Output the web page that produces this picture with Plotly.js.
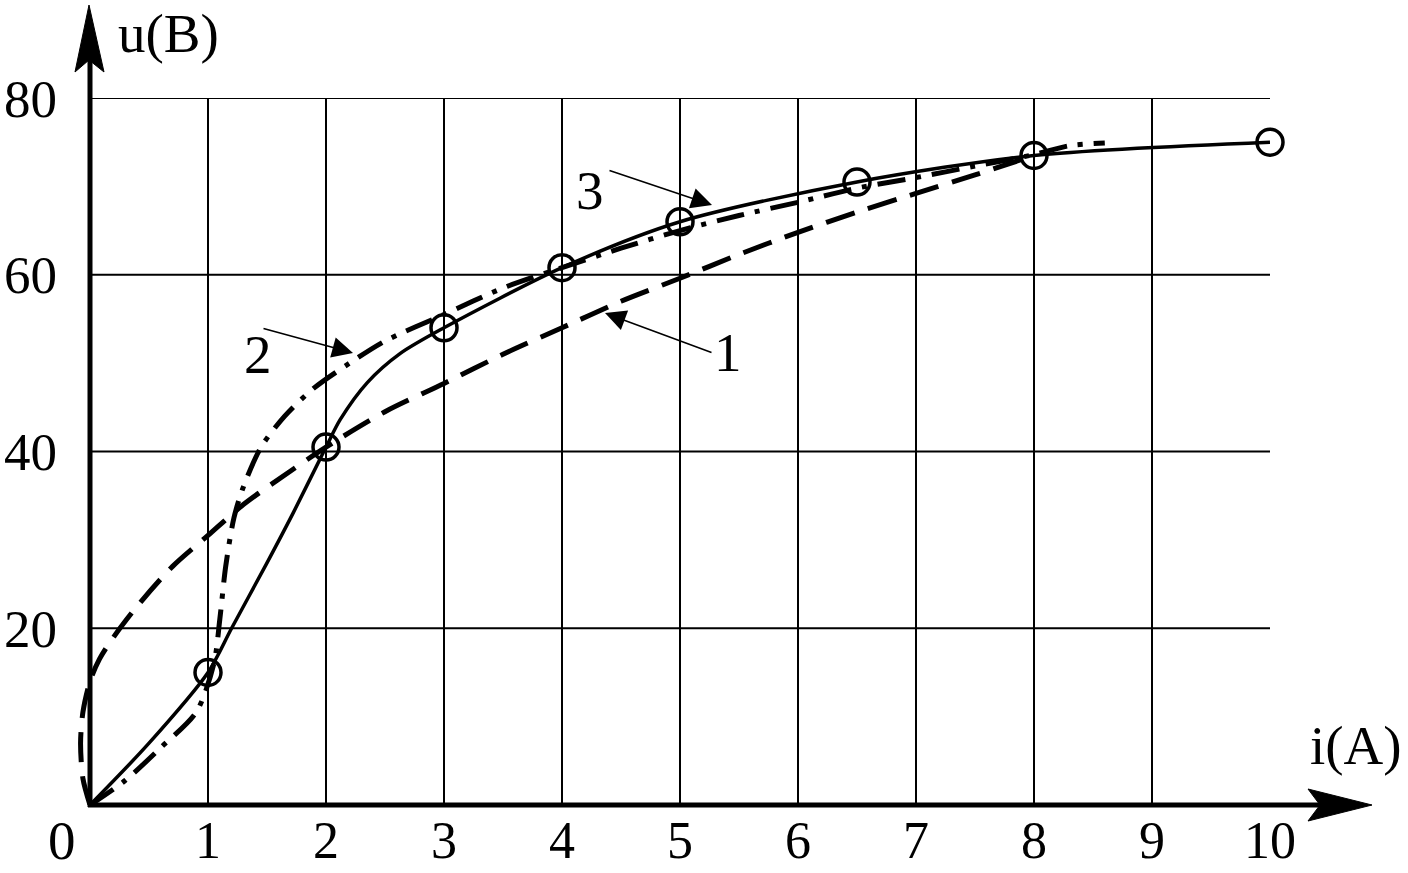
<!DOCTYPE html>
<html>
<head>
<meta charset="utf-8">
<script src="https://cdn.plot.ly/plotly-3.0.1.min.js"></script>
<style>html,body{margin:0;padding:0;background:#fff;}#chart{width:1408px;height:873px;}</style>
</head>
<body>
<div id="chart"></div>
<script>
// Curve 1 (dashed)
const curve1X = [0, -0.06, -0.08, -0.06, 0.0, 0.08, 0.2, 0.4, 0.7, 1.0, 1.3, 1.7, 2.0, 2.5, 3.0, 3.5, 4.0, 4.5, 5.0, 5.5, 6.0, 6.5, 7.0, 7.5, 8.0];
const curve1Y = [0, 3, 7, 10.5, 14, 16.5, 19, 22.5, 27, 30.5, 34, 37.8, 40.5, 44.5, 47.7, 51, 54, 57, 59.6, 62.3, 64.8, 67.1, 69.2, 71.3, 73.5];
// Curve 2 (dash-dot)
const curve2X = [0, 0.3, 0.6, 0.9, 1.05, 1.1, 1.15, 1.22, 1.3, 1.45, 1.65, 1.9, 2.2, 2.5, 3.0, 3.5, 4.0, 4.5, 5.0, 5.5, 6.0, 6.5, 7.0, 7.5, 8.0, 8.3, 8.6];
const curve2Y = [0, 2.8, 6.5, 10.5, 16, 21, 27, 32.5, 36, 40.5, 44, 47.2, 50, 52.5, 55.5, 58.5, 60.8, 63, 65, 66.7, 68.2, 69.8, 71, 72.3, 73.6, 74.6, 74.9];
// Curve 3 (solid)
const curve3X = [0, 0.5, 1.0, 1.2, 1.5, 1.72, 2.0, 2.12, 2.35, 2.63, 3.0, 4.0, 5.0, 6.5, 8.0, 10.0];
const curve3Y = [0, 7, 15, 20, 27.4, 33, 40.5, 43.6, 47.8, 51.1, 54, 60.8, 66, 70.5, 73.5, 75];
// Measured points (circles)
const pointsX = [1, 2, 3, 4, 5, 6.5, 8, 10];
const pointsY = [15, 40.5, 54, 60.8, 66, 70.5, 73.5, 75];
// Tick labels
const xTickVals = [1, 2, 3, 4, 5, 6, 7, 8, 9, 10];
const xTickText = ['1', '2', '3', '4', '5', '6', '7', '8', '9', '10'];
const yTickVals = [20, 40, 60, 80];
const yTickText = ['20', '40', '60', '80'];

const FONT = 'Liberation Serif, Times New Roman, serif';
const FS = 55;
const X0PX = 90, PL = 70, R = 1270, T = 98, B = 805, W = 1408, H = 873;
const XMIN = -(X0PX - PL) / ((R - X0PX) / 10);
// pixel -> paper helpers (paper spans PL..R horizontally, T..B vertically)
const px = v => (v - PL) / (R - PL);
const py = v => (B - v) / (B - T);

const traces = [
  {x: curve1X, y: curve1Y, mode: 'lines', line: {color: '#000', width: 5, dash: '30px,14px', shape: 'spline', smoothing: 0.8}, hoverinfo: 'skip'},
  {x: curve2X, y: curve2Y, mode: 'lines', line: {color: '#000', width: 5, dash: '28px,11px,5px,11px', shape: 'spline', smoothing: 0.8}, hoverinfo: 'skip'},
  {x: curve3X, y: curve3Y, mode: 'lines', line: {color: '#000', width: 3.5, shape: 'spline', smoothing: 0.8}, hoverinfo: 'skip'},
  {x: pointsX, y: pointsY, mode: 'markers', cliponaxis: false, marker: {symbol: 'circle-open', size: 26, color: '#000', line: {width: 3.5, color: '#000'}}, hoverinfo: 'skip'}
];

const shapes = [];
// horizontal grid lines from the y axis to x=10
yTickVals.forEach(v => shapes.push({type: 'line', xref: 'x', yref: 'y', x0: 0, x1: 10, y0: v, y1: v, layer: 'below', line: {color: '#000', width: 2}}));
// y axis with arrow
shapes.push({type: 'line', xref: 'paper', yref: 'paper', x0: px(90), x1: px(90), y0: py(807), y1: py(45), line: {color: '#000', width: 5}});
shapes.push({type: 'path', xref: 'paper', yref: 'paper', path: `M ${px(89)} ${py(5)} L ${px(75)} ${py(72)} L ${px(89)} ${py(60)} L ${px(104)} ${py(72)} Z`, fillcolor: '#000', line: {color: '#000', width: 1}});
// x axis with arrow
shapes.push({type: 'line', xref: 'paper', yref: 'paper', x0: px(88), x1: px(1330), y0: 0, y1: 0, line: {color: '#000', width: 5}});
shapes.push({type: 'path', xref: 'paper', yref: 'paper', path: `M ${px(1372)} ${py(805)} L ${px(1308)} ${py(789)} L ${px(1320)} ${py(805)} L ${px(1308)} ${py(821)} Z`, fillcolor: '#000', line: {color: '#000', width: 1}});

const tf = {family: FONT, size: FS, color: '#000'};
const annotations = [
  {xref: 'paper', yref: 'paper', x: px(116), y: py(34), xanchor: 'left', yanchor: 'middle', text: 'u(B)', showarrow: false, font: tf},
  {xref: 'paper', yref: 'paper', x: px(1308), y: py(745), xanchor: 'left', yanchor: 'middle', text: 'i(A)', showarrow: false, font: tf},
  {xref: 'paper', yref: 'paper', x: px(62), y: py(840), xanchor: 'center', yanchor: 'middle', text: '0', showarrow: false, font: tf},
  // curve labels
  {xref: 'paper', yref: 'paper', x: px(590), y: py(158), text: '3', showarrow: false, font: tf},
  {xref: 'paper', yref: 'paper', x: px(242), y: py(322), text: '2', showarrow: false, font: tf},
  {xref: 'paper', yref: 'paper', x: px(728), y: py(352), text: '1', showarrow: false, font: tf},
  // pointer arrows
  {xref: 'paper', yref: 'paper', x: px(712), y: py(205), ax: -104, ay: -35, text: '', showarrow: true, arrowhead: 2, arrowsize: 2.6, arrowwidth: 1.6, arrowcolor: '#000'},
  {xref: 'paper', yref: 'paper', x: px(353), y: py(353), ax: -91, ay: -25, text: '', showarrow: true, arrowhead: 2, arrowsize: 2.6, arrowwidth: 1.6, arrowcolor: '#000'},
  {xref: 'paper', yref: 'paper', x: px(605), y: py(313), ax: 108, ay: 40, text: '', showarrow: true, arrowhead: 2, arrowsize: 2.6, arrowwidth: 1.6, arrowcolor: '#000'}
];

const layout = {
  width: W, height: H,
  margin: {l: PL, r: W - R, t: T, b: H - B, pad: 0},
  paper_bgcolor: '#fff', plot_bgcolor: '#fff',
  showlegend: false,
  xaxis: {range: [XMIN, 10], tickvals: xTickVals, ticktext: xTickText, showgrid: true, gridcolor: '#000', gridwidth: 2, zeroline: false, showline: false, ticks: '', ticklabelstandoff: 0, tickfont: {family: FONT, size: 52, color: '#000'}, fixedrange: true},
  yaxis: {range: [0, 80], tickvals: yTickVals, ticktext: yTickText, showgrid: false, zeroline: false, showline: false, ticks: '', ticklabelstandoff: 12, tickfont: {family: FONT, size: 53, color: '#000'}, fixedrange: true},
  shapes: shapes,
  annotations: annotations
};

Plotly.newPlot('chart', traces, layout, {displayModeBar: false, staticPlot: true});
</script>
</body>
</html>
